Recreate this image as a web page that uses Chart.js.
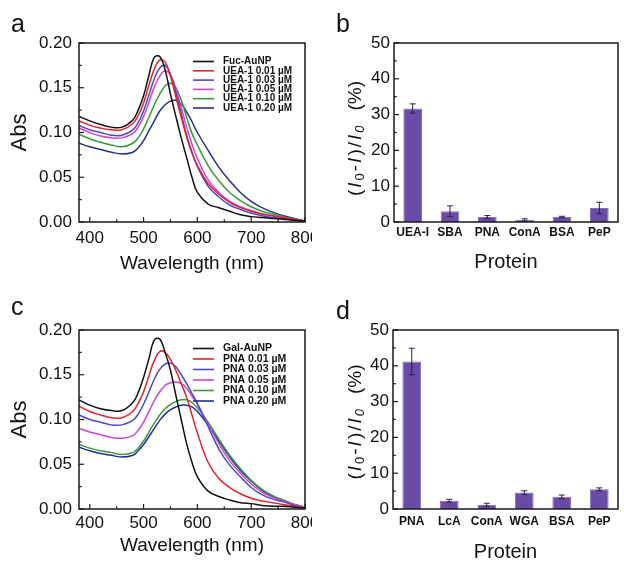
<!DOCTYPE html>
<html>
<head>
<meta charset="utf-8">
<script src="https://cdn.jsdelivr.net/npm/chart.js@4.4.1/dist/chart.umd.min.js"></script>
<style>
  html, body { margin: 0; padding: 0; background: #fff; }
  #fig { position: relative; width: 624px; height: 564px; overflow: hidden; font-family: "Liberation Sans", Arial, sans-serif; }
  .cell { position: absolute; width: 312px; height: 282px; overflow: hidden; }
  .cell canvas { position: absolute; left: 0; top: 0; }
  .tag { position: absolute; font-size: 25px; line-height: 1; color: #111; }
</style>
</head>
<body>
<div id="fig">
  <div class="cell" style="left:0;top:0"><canvas id="chartA" width="345" height="282" style="width:345px;height:282px"></canvas></div>
  <div class="cell" style="left:312px;top:0"><canvas id="chartB" width="312" height="282" style="width:312px;height:282px"></canvas></div>
  <div class="cell" style="left:0;top:282px"><canvas id="chartC" width="345" height="282" style="width:345px;height:282px"></canvas></div>
  <div class="cell" style="left:312px;top:282px"><canvas id="chartD" width="312" height="282" style="width:312px;height:282px"></canvas></div>
  <div class="tag" style="left:11px;top:11px">a</div>
  <div class="tag" style="left:336px;top:11px">b</div>
  <div class="tag" style="left:11px;top:294px">c</div>
  <div class="tag" style="left:336px;top:298px">d</div>
</div>
<script>
// wavelengths (nm) shared by all spectra
const wavelengths = [380, 400, 420, 440, 460, 480, 490, 500, 510, 520, 530, 540, 550, 560, 570, 580, 590, 600, 620, 640, 660, 680, 700, 720, 740, 760, 780, 800];

// panel a: Fuc-AuNP + UEA-1
const namesA = ['Fuc-AuNP', 'UEA-1 0.01 µM', 'UEA-1 0.03 µM', 'UEA-1 0.05 µM', 'UEA-1 0.10 µM', 'UEA-1 0.20 µM'];
const fucAuNP = [.118, .113, .109, .106, .106, .114, .125, .141, .164, .184, .185, .170, .143, .118, .094, .072, .050, .033, .020, .016, .012, .008, .006, .005, .004, .003, .002, .001];
const uea001 = [.113, .108, .105, .103, .103, .110, .119, .133, .153, .171, .181, .179, .163, .140, .117, .095, .077, .063, .043, .031, .022, .016, .012, .009, .007, .005, .003, .001];
const uea003 = [.108, .103, .100, .097, .097, .103, .111, .124, .142, .160, .172, .175, .165, .145, .121, .097, .078, .062, .040, .028, .019, .014, .010, .007, .005, .004, .002, .001];
const uea005 = [.105, .100, .096, .094, .094, .099, .106, .118, .134, .151, .163, .169, .164, .149, .128, .106, .087, .071, .047, .033, .023, .017, .013, .009, .007, .005, .003, .001];
const uea010 = [.098, .093, .089, .086, .084, .088, .094, .104, .117, .131, .143, .152, .155, .150, .136, .117, .099, .086, .063, .046, .033, .024, .017, .012, .009, .006, .003, .001];
const uea020 = [.088, .084, .081, .078, .076, .078, .083, .091, .102, .113, .124, .131, .135, .136, .132, .123, .112, .100, .080, .061, .046, .033, .023, .016, .011, .007, .004, .001];

// panel c: Gal-AuNP + PNA
const namesC = ['Gal-AuNP', 'PNA 0.01 µM', 'PNA 0.03 µM', 'PNA 0.05 µM', 'PNA 0.10 µM', 'PNA 0.20 µM'];
const galAuNP = [.122, .116, .112, .110, .110, .119, .130, .147, .168, .189, .190, .175, .155, .127, .100, .073, .052, .036, .020, .014, .010, .007, .006, .004, .003, .003, .002, .001];
const pna001 = [.115, .109, .105, .102, .102, .109, .118, .131, .149, .166, .176, .175, .167, .155, .140, .125, .105, .085, .052, .034, .024, .017, .012, .009, .007, .005, .003, .001];
const pna003 = [.105, .100, .097, .094, .094, .099, .106, .117, .131, .145, .156, .162, .163, .159, .150, .140, .129, .118, .092, .067, .049, .036, .024, .016, .011, .008, .004, .001];
const pna005 = [.090, .086, .083, .080, .079, .082, .088, .097, .109, .121, .131, .138, .141, .142, .140, .135, .126, .117, .095, .073, .054, .040, .028, .019, .013, .009, .005, .002];
const pna010 = [.072, .068, .065, .063, .061, .063, .068, .076, .086, .096, .105, .112, .117, .120, .122, .122, .119, .113, .097, .078, .060, .045, .032, .022, .015, .010, .005, .002];
const pna020 = [.069, .065, .062, .060, .058, .060, .065, .072, .081, .090, .099, .106, .111, .114, .116, .116, .114, .109, .094, .076, .058, .043, .031, .021, .014, .009, .005, .002];

const lineColors = ['#111111', '#e8202a', '#4a4ac6', '#cf45cf', '#3a9a3a', '#23328a'];
const xTicks = [400, 500, 600, 700, 800];
const absTicks = [0, 0.05, 0.10, 0.15, 0.20];

// panel b
const proteinsB = ['UEA-I', 'SBA', 'PNA', 'ConA', 'BSA', 'PeP'];
const ratioB = [31.7, 3.0, 1.4, 0.6, 1.4, 3.9];
const errB = [1.3, 1.5, 0.4, 0.3, 0.2, 1.6];

// panel d
const proteinsD = ['PNA', 'LcA', 'ConA', 'WGA', 'BSA', 'PeP'];
const ratioD = [41.2, 2.3, 1.2, 4.6, 3.4, 5.5];
const errD = [3.7, 0.4, 0.4, 0.5, 0.5, 0.4];

const ratioTicks = [0, 10, 20, 30, 40, 50];

const FONT = '"Liberation Sans", Arial, sans-serif';
const INK = '#111';

// frame around the plot plus inward ticks (major + half-step minor)
const frameTicks = {
  id: 'frameTicks',
  afterDraw(chart, args, opts) {
    const { ctx, chartArea: a, scales } = chart;
    ctx.save();
    ctx.strokeStyle = '#1a1a1a';
    ctx.lineWidth = 1.2;
    const mark = (id, len) => {
      const sc = scales[id];
      const vals = sc.ticks.map(t => t.value);
      const minor = [];
      for (let i = 0; i < vals.length - 1; i++) minor.push((vals[i] + vals[i + 1]) / 2);
      if (vals.length > 1) {
        const step = vals[1] - vals[0];
        minor.push(vals[0] - step / 2, vals[vals.length - 1] + step / 2);
      }
      const draw = (v, l) => {
        if (v < sc.min || v > sc.max) return;
        const p = sc.getPixelForValue(v);
        ctx.beginPath();
        if (id === 'x') { ctx.moveTo(p, a.bottom); ctx.lineTo(p, a.bottom - l); }
        else { ctx.moveTo(a.left, p); ctx.lineTo(a.left + l, p); }
        ctx.stroke();
      };
      vals.forEach(v => draw(v, len));
      minor.forEach(v => draw(v, len * 0.55));
    };
    if (opts.x) mark('x', 5);
    if (opts.y) mark('y', 5);
    ctx.lineWidth = 1.5;
    ctx.strokeRect(a.left, a.top, a.right - a.left, a.bottom - a.top);
    ctx.restore();
  }
};

// legend drawn inside the plot, top right
const curveLegend = {
  id: 'curveLegend',
  afterDraw(chart, args, opts) {
    const { ctx, chartArea: a } = chart;
    ctx.save();
    ctx.font = `bold ${opts.size}px ${FONT}`;
    ctx.textBaseline = 'middle';
    chart.data.datasets.forEach((ds, i) => {
      const y = a.top + opts.top + i * opts.gap;
      ctx.strokeStyle = ds.borderColor;
      ctx.lineWidth = 1.6;
      ctx.beginPath();
      ctx.moveTo(opts.x, y);
      ctx.lineTo(opts.x + 21, y);
      ctx.stroke();
      ctx.fillStyle = INK;
      ctx.fillText(ds.label, opts.x + 30, y);
    });
    ctx.restore();
  }
};

const errorBars = {
  id: 'errorBars',
  afterDatasetsDraw(chart) {
    const { ctx } = chart;
    const y = chart.scales.y;
    const ds = chart.data.datasets[0];
    ctx.save();
    ctx.strokeStyle = '#2b1f4d';
    ctx.lineWidth = 1;
    chart.getDatasetMeta(0).data.forEach((bar, i) => {
      const top = y.getPixelForValue(ds.data[i] + ds.errors[i]);
      const bot = y.getPixelForValue(ds.data[i] - ds.errors[i]);
      ctx.beginPath();
      ctx.moveTo(bar.x, top); ctx.lineTo(bar.x, bot);
      ctx.moveTo(bar.x - 3, top); ctx.lineTo(bar.x + 3, top);
      ctx.moveTo(bar.x - 3, bot); ctx.lineTo(bar.x + 3, bot);
      ctx.stroke();
    });
    ctx.restore();
  }
};

// (I0-I)/I0 (%) with italic I and subscript 0, rotated
const ratioTitle = {
  id: 'ratioTitle',
  afterDraw(chart, args, opts) {
    const { ctx, chartArea: a } = chart;
    const parts = [
      ['(', ''], ['I', 'italic '], ['0', 'sub'], ['-', ''], ['I', 'italic '], [')', ''], ['/', ''],
      ['I', 'italic '], ['0', 'italic sub'], [' ', 'space'], ['(%)', '']
    ];
    const big = 19, small = 13, gap = 2;
    const fontOf = st => st.indexOf('sub') >= 0
      ? `${st.indexOf('italic') >= 0 ? 'italic ' : ''}${small}px ${FONT}`
      : `${st === 'italic ' ? 'italic ' : ''}${big}px ${FONT}`;
    ctx.save();
    let total = 0;
    const widths = parts.map(([t, st]) => {
      ctx.font = fontOf(st);
      const w = st === 'space' ? 13 : ctx.measureText(t).width + gap;
      total += w;
      return w;
    });
    ctx.translate(opts.x, (a.top + a.bottom) / 2 + opts.dy);
    ctx.rotate(-Math.PI / 2);
    ctx.fillStyle = INK;
    ctx.textBaseline = 'alphabetic';
    let x = -total / 2;
    parts.forEach(([t, st], i) => {
      if (st !== 'space') {
        ctx.font = fontOf(st);
        ctx.fillText(t, x, st.indexOf('sub') >= 0 ? 10 : 7);
      }
      x += widths[i];
    });
    ctx.restore();
  }
};

function spectrum(id, names, series, area, legend, labelPad) {
  const W = 345, H = 282;
  return new Chart(document.getElementById(id), {
    type: 'line',
    data: {
      datasets: series.map((s, i) => ({
        label: names[i],
        data: wavelengths.map((w, j) => ({ x: w, y: s[j] })),
        borderColor: lineColors[i],
        borderWidth: 1.5,
        pointRadius: 0,
        tension: 0.4,
        fill: false
      }))
    },
    options: {
      responsive: false,
      animation: false,
      events: [],
      layout: { padding: { left: 0, top: area.top, right: W - area.right, bottom: 0 } },
      plugins: {
        legend: { display: false },
        tooltip: { enabled: false },
        frameTicks: { x: true, y: true },
        curveLegend: legend
      },
      scales: {
        x: {
          type: 'linear', min: 380, max: 800,
          grid: { display: false, drawTicks: false },
          border: { display: false },
          afterBuildTicks: sc => { sc.ticks = xTicks.map(v => ({ value: v })); },
          afterFit: sc => { sc.height = H - area.bottom; },
          ticks: { color: INK, font: { family: FONT, size: 17 }, padding: labelPad, maxRotation: 0, autoSkip: false },
          title: { display: true, text: 'Wavelength (nm)', color: INK, font: { family: FONT, size: 19 }, padding: { top: 0, bottom: 6.5 } }
        },
        y: {
          min: 0, max: 0.2,
          grid: { display: false, drawTicks: false },
          border: { display: false },
          afterBuildTicks: sc => { sc.ticks = absTicks.map(v => ({ value: v })); },
          afterFit: sc => { sc.width = area.left; },
          ticks: { color: INK, font: { family: FONT, size: 17 }, padding: 7, callback: v => v.toFixed(2) },
          title: { display: true, text: 'Abs', color: INK, font: { family: FONT, size: 22 }, padding: { top: 7, bottom: 0 } }
        }
      }
    },
    plugins: [frameTicks, curveLegend]
  });
}

function ratioBars(id, cats, values, errors, area, labelPad, titlePad, dy) {
  const W = 312, H = 282;
  return new Chart(document.getElementById(id), {
    type: 'bar',
    data: {
      labels: cats,
      datasets: [{
        data: values,
        errors: errors,
        backgroundColor: '#6a4ca6',
        borderColor: '#8a6cc4',
        borderWidth: 1,
        barPercentage: 0.5,
        categoryPercentage: 1
      }]
    },
    options: {
      responsive: false,
      animation: false,
      events: [],
      layout: { padding: { left: 0, top: area.top, right: W - area.right, bottom: 0 } },
      plugins: {
        legend: { display: false },
        tooltip: { enabled: false },
        frameTicks: { y: true },
        ratioTitle: { x: 42, dy: dy }
      },
      scales: {
        x: {
          grid: { display: false, drawTicks: false },
          border: { display: false },
          afterFit: sc => { sc.height = H - area.bottom; },
          ticks: { color: INK, font: { family: FONT, size: 12, weight: 'bold' }, padding: labelPad, maxRotation: 0, autoSkip: false },
          title: { display: true, text: 'Protein', color: INK, font: { family: FONT, size: 20 }, padding: { top: 0, bottom: titlePad } }
        },
        y: {
          min: 0, max: 50,
          grid: { display: false, drawTicks: false },
          border: { display: false },
          afterBuildTicks: sc => { sc.ticks = ratioTicks.map(v => ({ value: v })); },
          afterFit: sc => { sc.width = area.left; },
          ticks: { color: INK, font: { family: FONT, size: 17 }, padding: 4 }
        }
      }
    },
    plugins: [frameTicks, errorBars, ratioTitle]
  });
}

spectrum('chartA', namesA, [fucAuNP, uea001, uea003, uea005, uea010, uea020],
  { left: 79, top: 43, right: 305, bottom: 222 }, { x: 193, top: 18.5, gap: 9.3, size: 10 }, 6);
spectrum('chartC', namesC, [galAuNP, pna001, pna003, pna005, pna010, pna020],
  { left: 79, top: 48, right: 305, bottom: 227 }, { x: 193, top: 18.5, gap: 10.5, size: 10.5 }, 4);
ratioBars('chartB', proteinsB, ratioB, errB, { left: 82, top: 43, right: 306, bottom: 222 }, 3, 8, 5);
ratioBars('chartD', proteinsD, ratioD, errD, { left: 81, top: 48, right: 306, bottom: 227 }, 5, 0, 1.5);
</script>
</body>
</html>
